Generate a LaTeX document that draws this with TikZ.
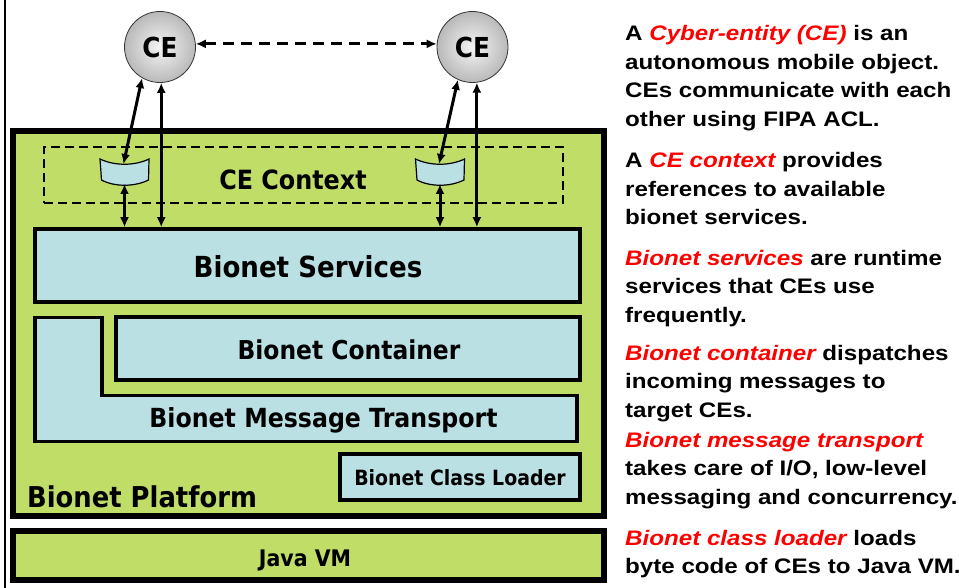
\documentclass[tikz,border=0pt]{standalone}
\usepackage{fontspec}
\setmainfont{Liberation Sans}
\newfontfamily\boxfont[FakeStretch=0.9]{DejaVu Sans}
\newfontfamily\notefont[FakeStretch=1.15]{Liberation Sans}
\usepackage{xcolor}
\usetikzlibrary{arrows.meta, calc}

\definecolor{platgreen}{RGB}{192,221,104}
\definecolor{layerblue}{RGB}{187,224,228}
\definecolor{noteRed}{RGB}{255,0,0}

\tikzset{
    frame/.style={draw=black, line width=6pt, fill=platgreen, inner sep=0pt},
    layer/.style={draw=black, line width=3.5pt, fill=layerblue, inner sep=0pt},
    lbl/.style={inner sep=0pt, anchor=base, font=\boxfont\bfseries\fontsize{#1}{#1}\selectfont},
    cenode/.style={circle, draw=black!80, line width=0.8pt, minimum size=71pt, inner sep=0pt,
        inner color=gray!8, outer color=gray!55, font=\boxfont\bfseries\fontsize{27.5}{30}\selectfont},
    link/.style={<->, line width=3pt},
    note/.style={anchor=base west, align=left, inner sep=0pt,
        font=\notefont\bfseries\fontsize{21}{28.5}\selectfont},
}
\newcommand{\hl}[1]{\textcolor{noteRed}{\itshape #1}}
% slot del contesto: #1 nome, #2 centro x
\newcommand{\ctxslot}[2]{%
    \draw[fill=layerblue, line width=1.2pt]
    (#2-24.5,159) .. controls (#2-10,166) and (#2+10,166) .. (#2+24.5,159) --
    (#2+24,180) .. controls (#2+10,187) and (#2-10,187) .. (#2-23,180) -- cycle;
    \coordinate (#1-top) at (#2-1,164);
    \coordinate (#1-bot) at (#2,184);
}

\begin{document}
\begin{tikzpicture}[x=1pt, y=-1pt, >={Latex[length=10pt,width=9pt]}]
    \useasboundingbox (0,0) rectangle (959,588);

    % Linea di bordo a sinistra
    \draw[line width=1.5pt] (5,0) -- (5,588);

    % Piattaforma e Java VM
    \node[frame, minimum width=591pt, minimum height=385pt] (platform) at (308.5,323.5) {};
    \node[frame, minimum width=591pt, minimum height=49pt] (jvm) at (308.5,555.5) {};
    \node[lbl=22.8] (jvmlabel) at (305,566) {Java VM};
    \node[lbl=28.7, anchor=base west] (platlabel) at (27,507) {Bionet Platform};

    % Contesto CE tratteggiato
    \node[draw, dashed, dash pattern=on 9pt off 5pt, line width=1.5pt,
        minimum width=519pt, minimum height=56pt] (context) at (303.5,175) {};
    \node[lbl=26.5] (ctxlabel) at (293,190) {CE Context};
    \ctxslot{slotL}{124.5}
    \ctxslot{slotR}{440}

    % Strati del bionet
    \node[layer, minimum width=545pt, minimum height=73pt] (services) at (307.5,265.5) {};
    \node[lbl=29] (srvlabel) at (308,277) {Bionet Services};
    \node[layer, minimum width=464pt, minimum height=63pt] (container) at (348,348.5) {};
    \node[lbl=26] (cntlabel) at (349,359) {Bionet Container};
    \draw[layer] (35,317.5) -- (102,317.5) -- (102,395.5) -- (577,395.5) --
        (577,441.5) -- (35,441.5) -- cycle;
    \node[lbl=26.3] (transport) at (323.5,427) {Bionet Message Transport};
    \node[layer, minimum width=240pt, minimum height=46pt] (loader) at (460,477) {};
    \node[lbl=21] (ldrlabel) at (460,485) {Bionet Class Loader};

    % Cyber-entity
    \node[cenode] (ceL) at (160,47) {CE};
    \node[cenode] (ceR) at (472.5,47) {CE};
    \draw[link, dashed, dash pattern=on 11pt off 7pt] (ceL.5) -- (ceR.175);

    % Frecce verso i servizi
    \draw[link] (ceL.-120) -- (slotL-top);
    \draw[link] (ceL.-88) -- (ceL.-88 |- services.north);
    \draw[link] (slotL-bot) -- (slotL-bot |- services.north);
    \draw[link] (ceR.-114) -- (slotR-top);
    \draw[link] (ceR.-83) -- (ceR.-83 |- services.north);
    \draw[link] (slotR-bot) -- (slotR-bot |- services.north);

    % Testo descrittivo a destra (ancorato all'ultima riga)
    \node[note] (noteCE) at (625,126.5) {A \hl{Cyber-entity (CE)} is an\\autonomous mobile object.\\CEs communicate with each\\other using FIPA ACL.};
    \node[note] (noteCtx) at (625,225) {A \hl{CE context} provides\\references to available\\bionet services.};
    \node[note] (noteSrv) at (625,322) {\hl{Bionet services} are runtime\\services that CEs use\\frequently.};
    \node[note] (noteCnt) at (625,417) {\hl{Bionet container} dispatches\\incoming messages to\\target CEs.};
    \node[note] (noteTrn) at (625,504) {\hl{Bionet message transport}\\takes care of I/O, low-level\\messaging and concurrency.};
    \node[note] (noteLdr) at (625,573.5) {\hl{Bionet class loader} loads\\byte code of CEs to Java VM.};
\end{tikzpicture}
\end{document}
